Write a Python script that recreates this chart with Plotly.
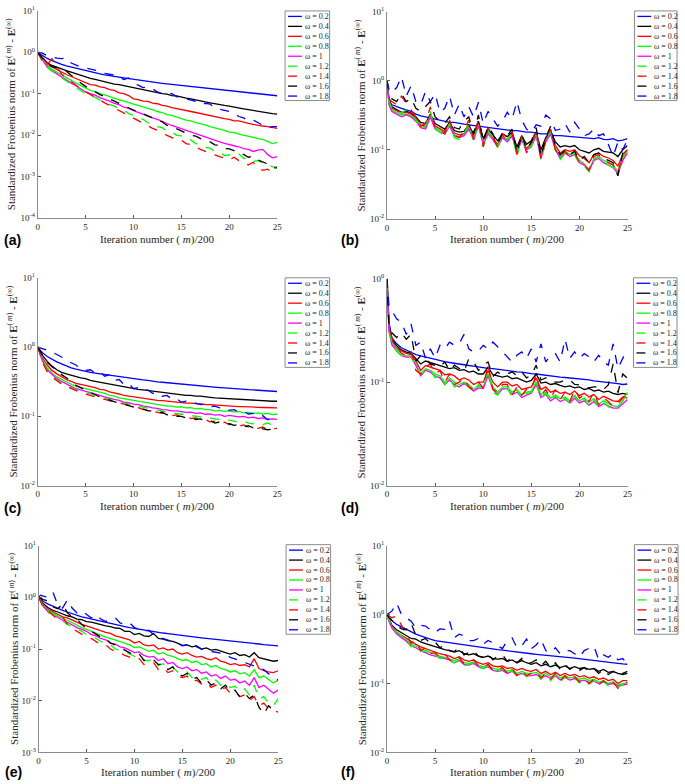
import plotly.graph_objects as go

W, H = 685, 784

# x grid: iteration number (m)/200
X = [0, 0.2, 0.5, 1, 1.5, 2, 2.5, 3, 3.5, 4, 4.5, 5,
     5.5, 6, 6.5, 7, 7.5, 8, 8.5, 9, 9.5, 10,
     10.5, 11, 11.5, 12, 12.5, 13, 13.5, 14, 14.5, 15,
     15.5, 16, 16.5, 17, 17.5, 18, 18.5, 19, 19.5, 20,
     20.5, 21, 21.5, 22, 22.5, 23, 23.5, 24, 24.5, 25]

OMEGA_LABELS = ["ω = 0.2", "ω = 0.4", "ω = 0.6", "ω = 0.8", "ω = 1",
                "ω = 1.2", "ω = 1.4", "ω = 1.6", "ω = 1.8"]
X_TICKS = [0, 5, 10, 15, 20, 25]
PANEL_LABELS = ["(a)", "(b)", "(c)", "(d)", "(e)", "(f)"]

# ---------------- panel (a) ----------------
A_02 = [1.0, 0.93, 0.83, 0.71, 0.63, 0.56, 0.51, 0.47, 0.44, 0.41, 0.38, 0.355,
        0.335, 0.32, 0.30, 0.285, 0.27, 0.26, 0.25, 0.24, 0.23, 0.22,
        0.212, 0.205, 0.198, 0.19, 0.184, 0.178, 0.172, 0.167, 0.162, 0.157,
        0.152, 0.148, 0.144, 0.14, 0.136, 0.132, 0.128, 0.125, 0.121, 0.118,
        0.115, 0.112, 0.109, 0.106, 0.103, 0.1, 0.097, 0.094, 0.092, 0.089]
A_04 = [1.0, 0.9, 0.76, 0.56, 0.48, 0.43, 0.39, 0.36, 0.33, 0.3, 0.28, 0.25,
        0.235, 0.22, 0.205, 0.195, 0.18, 0.17, 0.165, 0.155, 0.15, 0.14,
        0.13, 0.125, 0.118, 0.112, 0.105, 0.1, 0.097, 0.09, 0.088, 0.082,
        0.078, 0.075, 0.07, 0.068, 0.063, 0.06, 0.058, 0.054, 0.052, 0.05,
        0.047, 0.046, 0.043, 0.041, 0.039, 0.038, 0.035, 0.034, 0.033, 0.032]
A_06 = [1.0, 0.88, 0.7, 0.52, 0.44, 0.38, 0.33, 0.29, 0.26, 0.23, 0.21, 0.18,
        0.165, 0.16, 0.145, 0.14, 0.125, 0.12, 0.105, 0.1, 0.09, 0.075,
        0.072, 0.066, 0.065, 0.059, 0.057, 0.052, 0.05, 0.046, 0.044, 0.041,
        0.039, 0.037, 0.035, 0.033, 0.032, 0.029, 0.028, 0.026, 0.025, 0.024,
        0.022, 0.022, 0.02, 0.019, 0.018, 0.017, 0.0165, 0.016, 0.015, 0.0145]
A_08 = [1.0, 0.86, 0.66, 0.47, 0.39, 0.33, 0.28, 0.24, 0.21, 0.18, 0.155, 0.135,
        0.12, 0.112, 0.1, 0.094, 0.085, 0.08, 0.071, 0.067, 0.06, 0.056,
        0.052, 0.047, 0.044, 0.041, 0.037, 0.035, 0.031, 0.03, 0.027, 0.025,
        0.023, 0.022, 0.02, 0.019, 0.0175, 0.016, 0.015, 0.014, 0.013, 0.0118,
        0.0115, 0.0105, 0.01, 0.0092, 0.0088, 0.0082, 0.0078, 0.007, 0.0062, 0.0066]
A_10 = [1.0, 0.85, 0.63, 0.44, 0.36, 0.3, 0.25, 0.21, 0.18, 0.155, 0.13, 0.11,
        0.1, 0.092, 0.08, 0.073, 0.066, 0.058, 0.054, 0.047, 0.044, 0.039,
        0.035, 0.032, 0.029, 0.026, 0.024, 0.021, 0.019, 0.017, 0.0155, 0.014,
        0.0128, 0.0115, 0.0105, 0.0098, 0.0088, 0.0082, 0.0074, 0.0068, 0.0063, 0.006,
        0.0055, 0.0052, 0.0047, 0.0045, 0.004, 0.0043, 0.0045, 0.0034, 0.0028, 0.003]
A_12 = [1.0, 0.85, 0.62, 0.43, 0.35, 0.29, 0.24, 0.2, 0.17, 0.14, 0.12, 0.1,
        0.088, 0.082, 0.07, 0.064, 0.055, 0.05, 0.043, 0.04, 0.033, 0.03,
        0.026, 0.024, 0.02, 0.019, 0.016, 0.015, 0.0125, 0.012, 0.0098, 0.0095,
        0.008, 0.0076, 0.0062, 0.006, 0.005, 0.0048, 0.004, 0.0038, 0.0032, 0.0033,
        0.0031, 0.0035, 0.0027, 0.0028, 0.0023, 0.0024, 0.0021, 0.002, 0.0017, 0.0017]
A_14 = [1.0, 0.84, 0.6, 0.5, 0.7, 0.45, 0.3, 0.24, 0.2, 0.16, 0.13, 0.11,
        0.095, 0.08, 0.07, 0.06, 0.052, 0.045, 0.039, 0.034, 0.029, 0.025,
        0.022, 0.019, 0.017, 0.0145, 0.013, 0.011, 0.0098, 0.0088, 0.0078, 0.0075,
        0.0062, 0.0058, 0.005, 0.0045, 0.004, 0.0037, 0.0033, 0.003, 0.0028, 0.0025,
        0.0029, 0.0024, 0.0021, 0.0019, 0.0022, 0.0016, 0.0014, 0.0015, 0.0012, 0.00105]
A_16 = [1.0, 0.88, 0.7, 0.52, 0.45, 0.42, 0.44, 0.36, 0.28, 0.22, 0.18, 0.15,
        0.13, 0.11, 0.095, 0.085, 0.075, 0.065, 0.058, 0.05, 0.045, 0.04,
        0.037, 0.032, 0.029, 0.026, 0.022, 0.021, 0.017, 0.016, 0.014, 0.0125,
        0.011, 0.0098, 0.0094, 0.0082, 0.0072, 0.0068, 0.0058, 0.0056, 0.0047, 0.0046,
        0.0042, 0.0036, 0.0034, 0.0029, 0.0031, 0.0025, 0.0022, 0.002, 0.0016, 0.0016]
A_18 = [1.0, 1.0, 0.95, 0.83, 0.78, 0.72, 0.7, 0.73, 0.55, 0.5, 0.44, 0.42,
        0.4, 0.37, 0.35, 0.31, 0.3, 0.28, 0.25, 0.22, 0.24, 0.18,
        0.16, 0.14, 0.145, 0.13, 0.11, 0.1, 0.105, 0.1, 0.085, 0.08,
        0.075, 0.07, 0.065, 0.055, 0.058, 0.056, 0.045, 0.042, 0.04, 0.037,
        0.033, 0.028, 0.026, 0.022, 0.023, 0.02, 0.017, 0.015, 0.016, 0.016]

# ---------------- panel (b) ----------------
B_02 = [1.0, 0.5, 0.45, 0.42, 0.4, 0.38, 0.36, 0.33, 0.31, 0.3, 0.29, 0.28,
        0.27, 0.26, 0.25, 0.25, 0.24, 0.235, 0.23, 0.225, 0.22, 0.215,
        0.21, 0.205, 0.2, 0.2, 0.195, 0.19, 0.19, 0.185, 0.18, 0.18,
        0.175, 0.17, 0.17, 0.165, 0.16, 0.16, 0.158, 0.155, 0.155, 0.15,
        0.15, 0.148, 0.145, 0.15, 0.142, 0.14, 0.145, 0.135, 0.138, 0.145]
B_04 = [1.0, 0.56, 0.42, 0.38, 0.35, 0.36, 0.34, 0.3, 0.25, 0.24, 0.33, 0.24,
        0.22, 0.2, 0.25, 0.19, 0.18, 0.185, 0.23, 0.165, 0.26, 0.145,
        0.2, 0.165, 0.135, 0.17, 0.155, 0.18, 0.11, 0.16, 0.12, 0.135,
        0.18, 0.1, 0.15, 0.19, 0.13, 0.11, 0.115, 0.11, 0.115, 0.1,
        0.095, 0.09, 0.1, 0.105, 0.095, 0.092, 0.09, 0.08, 0.1, 0.115]
B_06 = [1.0, 0.52, 0.4, 0.37, 0.34, 0.35, 0.33, 0.28, 0.23, 0.22, 0.32, 0.22,
        0.2, 0.185, 0.24, 0.175, 0.165, 0.17, 0.22, 0.15, 0.24, 0.13,
        0.185, 0.15, 0.12, 0.16, 0.14, 0.17, 0.095, 0.15, 0.105, 0.12,
        0.17, 0.085, 0.14, 0.18, 0.115, 0.09, 0.1, 0.095, 0.1, 0.082,
        0.075, 0.065, 0.085, 0.09, 0.08, 0.076, 0.07, 0.058, 0.085, 0.1]
B_08 = [1.0, 0.48, 0.38, 0.35, 0.32, 0.33, 0.31, 0.27, 0.22, 0.21, 0.31, 0.21,
        0.19, 0.175, 0.23, 0.165, 0.155, 0.165, 0.21, 0.145, 0.23, 0.125,
        0.175, 0.145, 0.115, 0.155, 0.135, 0.165, 0.09, 0.145, 0.1, 0.115,
        0.165, 0.078, 0.135, 0.175, 0.105, 0.08, 0.095, 0.085, 0.09, 0.07,
        0.062, 0.052, 0.072, 0.08, 0.07, 0.064, 0.06, 0.048, 0.075, 0.095]
B_10 = [1.0, 0.45, 0.36, 0.33, 0.3, 0.32, 0.3, 0.26, 0.21, 0.2, 0.3, 0.2,
        0.18, 0.17, 0.22, 0.16, 0.15, 0.16, 0.2, 0.14, 0.22, 0.12,
        0.17, 0.14, 0.11, 0.15, 0.13, 0.16, 0.09, 0.14, 0.1, 0.11,
        0.16, 0.075, 0.13, 0.17, 0.1, 0.075, 0.09, 0.08, 0.085, 0.065,
        0.06, 0.05, 0.07, 0.075, 0.065, 0.06, 0.055, 0.045, 0.07, 0.09]
B_12 = [1.0, 0.5, 0.4, 0.36, 0.34, 0.38, 0.32, 0.27, 0.2, 0.22, 0.36, 0.2,
        0.18, 0.16, 0.24, 0.15, 0.14, 0.17, 0.24, 0.13, 0.25, 0.11,
        0.19, 0.14, 0.11, 0.16, 0.14, 0.17, 0.08, 0.15, 0.095, 0.11,
        0.18, 0.07, 0.13, 0.19, 0.1, 0.072, 0.088, 0.078, 0.085, 0.062,
        0.058, 0.048, 0.075, 0.08, 0.068, 0.06, 0.055, 0.044, 0.08, 0.1]
B_14 = [1.0, 0.55, 0.5, 0.45, 0.6, 0.48, 0.38, 0.3, 0.22, 0.24, 0.42, 0.21,
        0.2, 0.17, 0.27, 0.16, 0.15, 0.19, 0.27, 0.14, 0.28, 0.11,
        0.21, 0.15, 0.11, 0.17, 0.15, 0.18, 0.085, 0.16, 0.09, 0.12,
        0.2, 0.075, 0.14, 0.2, 0.1, 0.08, 0.095, 0.08, 0.09, 0.065,
        0.06, 0.05, 0.08, 0.085, 0.07, 0.065, 0.06, 0.046, 0.085, 0.1]
B_16 = [1.0, 0.75, 0.55, 0.5, 0.65, 0.5, 0.56, 0.4, 0.36, 0.42, 0.5, 0.3,
        0.26, 0.24, 0.3, 0.21, 0.2, 0.26, 0.3, 0.17, 0.32, 0.13,
        0.22, 0.17, 0.12, 0.18, 0.16, 0.2, 0.09, 0.17, 0.1, 0.13,
        0.21, 0.08, 0.15, 0.22, 0.11, 0.085, 0.1, 0.085, 0.095, 0.07,
        0.08, 0.065, 0.085, 0.09, 0.075, 0.07, 0.065, 0.042, 0.09, 0.11]
B_18 = [1.0, 0.7, 0.68, 0.8, 1.15, 0.6, 0.85, 0.5, 0.45, 0.7, 0.5, 0.65,
        0.35, 0.4, 0.6, 0.32, 0.46, 0.3, 0.42, 0.3, 0.49, 0.24,
        0.36, 0.28, 0.22, 0.26, 0.35, 0.28, 0.5, 0.27, 0.2, 0.18,
        0.23, 0.22, 0.32, 0.28, 0.19, 0.2, 0.24, 0.18, 0.25, 0.2,
        0.16, 0.17, 0.2, 0.16, 0.17, 0.12, 0.08, 0.13, 0.1, 0.14]

# ---------------- panel (c) ----------------
C_02 = [1.0, 0.93, 0.83, 0.73, 0.66, 0.61, 0.57, 0.53, 0.5, 0.48, 0.46, 0.44,
        0.43, 0.42, 0.41, 0.4, 0.39, 0.38, 0.37, 0.36, 0.355, 0.35,
        0.34, 0.335, 0.33, 0.32, 0.315, 0.31, 0.305, 0.3, 0.295, 0.29,
        0.287, 0.283, 0.28, 0.275, 0.27, 0.267, 0.263, 0.26, 0.257, 0.253,
        0.25, 0.248, 0.245, 0.242, 0.24, 0.237, 0.235, 0.232, 0.23, 0.228]
C_04 = [1.0, 0.9, 0.76, 0.62, 0.53, 0.47, 0.43, 0.41, 0.39, 0.37, 0.36, 0.35,
        0.33, 0.32, 0.31, 0.3, 0.29, 0.28, 0.275, 0.265, 0.26, 0.25,
        0.245, 0.24, 0.235, 0.23, 0.225, 0.22, 0.215, 0.215, 0.21, 0.205,
        0.2, 0.2, 0.195, 0.195, 0.19, 0.188, 0.185, 0.183, 0.18, 0.178,
        0.176, 0.175, 0.173, 0.172, 0.17, 0.169, 0.168, 0.166, 0.165, 0.165]
C_06 = [1.0, 0.88, 0.7, 0.55, 0.46, 0.41, 0.37, 0.34, 0.32, 0.3, 0.29, 0.28,
        0.27, 0.26, 0.245, 0.24, 0.225, 0.22, 0.21, 0.2, 0.195, 0.19,
        0.185, 0.18, 0.178, 0.175, 0.17, 0.168, 0.165, 0.162, 0.16, 0.158,
        0.155, 0.155, 0.152, 0.15, 0.148, 0.147, 0.145, 0.143, 0.142, 0.14,
        0.14, 0.138, 0.138, 0.136, 0.136, 0.135, 0.134, 0.133, 0.132, 0.132]
C_08 = [1.0, 0.86, 0.66, 0.5, 0.42, 0.37, 0.34, 0.31, 0.29, 0.27, 0.26, 0.25,
        0.24, 0.23, 0.22, 0.215, 0.2, 0.195, 0.185, 0.18, 0.175, 0.168,
        0.165, 0.158, 0.155, 0.15, 0.148, 0.145, 0.14, 0.14, 0.136, 0.137,
        0.132, 0.133, 0.128, 0.13, 0.125, 0.125, 0.12, 0.122, 0.118, 0.12,
        0.115, 0.118, 0.112, 0.114, 0.11, 0.112, 0.108, 0.11, 0.106, 0.108]
C_10 = [1.0, 0.85, 0.63, 0.47, 0.4, 0.35, 0.32, 0.29, 0.27, 0.25, 0.24, 0.23,
        0.22, 0.21, 0.2, 0.19, 0.18, 0.175, 0.17, 0.16, 0.158, 0.15,
        0.148, 0.14, 0.138, 0.132, 0.13, 0.125, 0.124, 0.12, 0.12, 0.117,
        0.114, 0.115, 0.11, 0.112, 0.107, 0.108, 0.104, 0.106, 0.1, 0.103,
        0.1, 0.098, 0.1, 0.095, 0.097, 0.093, 0.095, 0.09, 0.092, 0.09]
C_12 = [1.0, 0.85, 0.62, 0.45, 0.38, 0.34, 0.3, 0.28, 0.26, 0.24, 0.23, 0.22,
        0.21, 0.2, 0.19, 0.18, 0.175, 0.17, 0.16, 0.155, 0.15, 0.142,
        0.14, 0.135, 0.13, 0.125, 0.122, 0.118, 0.115, 0.112, 0.11, 0.107,
        0.105, 0.102, 0.1, 0.098, 0.096, 0.095, 0.092, 0.09, 0.09, 0.088,
        0.085, 0.082, 0.085, 0.08, 0.078, 0.082, 0.076, 0.08, 0.075, 0.078]
C_14 = [1.0, 0.84, 0.6, 0.44, 0.37, 0.33, 0.29, 0.27, 0.25, 0.235, 0.22, 0.21,
        0.2, 0.19, 0.18, 0.175, 0.168, 0.16, 0.155, 0.15, 0.145, 0.135,
        0.133, 0.125, 0.125, 0.118, 0.115, 0.11, 0.112, 0.102, 0.105, 0.098,
        0.1, 0.093, 0.095, 0.088, 0.09, 0.083, 0.085, 0.079, 0.082, 0.076,
        0.078, 0.072, 0.075, 0.07, 0.072, 0.067, 0.07, 0.064, 0.066, 0.067]
C_16 = [1.0, 0.9, 0.75, 0.6, 0.52, 0.45, 0.4, 0.36, 0.32, 0.28, 0.26, 0.24,
        0.22, 0.205, 0.19, 0.18, 0.17, 0.162, 0.155, 0.15, 0.142, 0.138,
        0.13, 0.128, 0.12, 0.12, 0.112, 0.115, 0.105, 0.108, 0.1, 0.1,
        0.095, 0.097, 0.09, 0.092, 0.085, 0.087, 0.08, 0.083, 0.077, 0.078,
        0.074, 0.076, 0.07, 0.073, 0.068, 0.07, 0.066, 0.064, 0.065, 0.068]
C_18 = [1.0, 0.98, 0.95, 0.9, 0.85, 0.78, 0.72, 0.64, 0.6, 0.55, 0.48, 0.46,
        0.47, 0.42, 0.44, 0.38, 0.4, 0.33, 0.34, 0.29, 0.3, 0.25,
        0.26, 0.235, 0.24, 0.215, 0.22, 0.195, 0.2, 0.178, 0.18, 0.16,
        0.165, 0.15, 0.155, 0.148, 0.15, 0.138, 0.14, 0.132, 0.135, 0.122,
        0.125, 0.115, 0.118, 0.108, 0.11, 0.1, 0.102, 0.09, 0.092, 0.082]

# ---------------- panel (d) ----------------
D_02 = [1.0, 0.38, 0.27, 0.235, 0.215, 0.205, 0.195, 0.185, 0.18, 0.175, 0.17, 0.165,
        0.162, 0.158, 0.155, 0.152, 0.15, 0.148, 0.145, 0.143, 0.14, 0.138,
        0.136, 0.135, 0.133, 0.13, 0.13, 0.128, 0.126, 0.125, 0.122, 0.121,
        0.12, 0.118, 0.117, 0.115, 0.114, 0.112, 0.111, 0.11, 0.108, 0.107,
        0.106, 0.105, 0.103, 0.102, 0.1, 0.099, 0.098, 0.097, 0.095, 0.096]
D_04 = [1.0, 0.36, 0.26, 0.225, 0.205, 0.195, 0.19, 0.17, 0.15, 0.16, 0.155, 0.15,
        0.145, 0.14, 0.135, 0.138, 0.13, 0.132, 0.125, 0.128, 0.12, 0.12,
        0.14, 0.118, 0.115, 0.112, 0.115, 0.108, 0.11, 0.105, 0.1, 0.104,
        0.12, 0.098, 0.1, 0.095, 0.097, 0.093, 0.09, 0.092, 0.088, 0.09,
        0.085, 0.087, 0.082, 0.084, 0.08, 0.082, 0.078, 0.076, 0.078, 0.076]
D_06 = [1.0, 0.34, 0.25, 0.215, 0.2, 0.19, 0.185, 0.16, 0.13, 0.145, 0.14, 0.135,
        0.13, 0.118, 0.12, 0.115, 0.105, 0.11, 0.105, 0.095, 0.1, 0.1,
        0.13, 0.1, 0.09, 0.1, 0.1, 0.092, 0.095, 0.085, 0.088, 0.09,
        0.11, 0.085, 0.09, 0.08, 0.083, 0.078, 0.08, 0.076, 0.082, 0.074,
        0.078, 0.072, 0.076, 0.068, 0.073, 0.07, 0.066, 0.065, 0.072, 0.07]
D_08 = [1.0, 0.32, 0.24, 0.21, 0.19, 0.18, 0.18, 0.15, 0.12, 0.135, 0.13, 0.12,
        0.115, 0.1, 0.11, 0.1, 0.095, 0.1, 0.095, 0.085, 0.092, 0.09,
        0.12, 0.09, 0.08, 0.09, 0.09, 0.08, 0.085, 0.075, 0.08, 0.082,
        0.1, 0.075, 0.08, 0.07, 0.075, 0.069, 0.072, 0.066, 0.074, 0.066,
        0.07, 0.064, 0.069, 0.061, 0.066, 0.062, 0.059, 0.058, 0.066, 0.08]
D_10 = [1.0, 0.31, 0.23, 0.2, 0.18, 0.175, 0.175, 0.145, 0.115, 0.13, 0.125, 0.115,
        0.11, 0.095, 0.105, 0.095, 0.09, 0.097, 0.09, 0.082, 0.088, 0.087,
        0.115, 0.085, 0.076, 0.086, 0.086, 0.076, 0.08, 0.071, 0.075, 0.078,
        0.095, 0.071, 0.076, 0.066, 0.071, 0.065, 0.068, 0.063, 0.07, 0.063,
        0.066, 0.06, 0.065, 0.058, 0.062, 0.059, 0.056, 0.056, 0.062, 0.068]
D_12 = [1.0, 0.33, 0.24, 0.2, 0.18, 0.17, 0.18, 0.14, 0.12, 0.13, 0.13, 0.11,
        0.12, 0.095, 0.11, 0.09, 0.095, 0.1, 0.09, 0.08, 0.095, 0.085,
        0.13, 0.08, 0.075, 0.09, 0.088, 0.072, 0.085, 0.07, 0.078, 0.08,
        0.1, 0.07, 0.078, 0.065, 0.075, 0.062, 0.07, 0.062, 0.075, 0.062,
        0.07, 0.058, 0.068, 0.057, 0.064, 0.058, 0.055, 0.058, 0.065, 0.085]
D_14 = [1.0, 0.35, 0.27, 0.22, 0.19, 0.18, 0.2, 0.13, 0.12, 0.14, 0.15, 0.12,
        0.13, 0.1, 0.12, 0.095, 0.1, 0.11, 0.09, 0.085, 0.1, 0.088,
        0.15, 0.085, 0.08, 0.095, 0.095, 0.075, 0.09, 0.075, 0.085, 0.085,
        0.12, 0.075, 0.085, 0.07, 0.085, 0.068, 0.08, 0.065, 0.085, 0.07,
        0.075, 0.065, 0.08, 0.06, 0.07, 0.065, 0.058, 0.062, 0.07, 0.08]
D_16 = [1.0, 0.36, 0.3, 0.27, 0.3, 0.26, 0.29, 0.16, 0.18, 0.17, 0.15, 0.146,
        0.14, 0.157, 0.13, 0.146, 0.135, 0.126, 0.169, 0.157, 0.13, 0.146,
        0.157, 0.113, 0.125, 0.117, 0.12, 0.126, 0.115, 0.126, 0.11, 0.117,
        0.146, 0.105, 0.11, 0.109, 0.1, 0.1, 0.105, 0.105, 0.095, 0.094,
        0.09, 0.088, 0.09, 0.09, 0.085, 0.094, 0.15, 0.079, 0.12, 0.109]
D_18 = [1.0, 0.55, 0.49, 0.41, 0.38, 0.29, 0.365, 0.227, 0.244, 0.17, 0.21, 0.17,
        0.227, 0.21, 0.244, 0.227, 0.235, 0.29, 0.21, 0.196, 0.2, 0.227,
        0.21, 0.244, 0.22, 0.196, 0.176, 0.157, 0.182, 0.196, 0.17, 0.21,
        0.157, 0.235, 0.157, 0.182, 0.189, 0.157, 0.26, 0.17, 0.196, 0.17,
        0.189, 0.176, 0.157, 0.182, 0.157, 0.146, 0.235, 0.136, 0.17, 0.21]

# ---------------- panel (e) ----------------
E_02 = [1.0, 0.92, 0.83, 0.74, 0.67, 0.61, 0.56, 0.52, 0.48, 0.45, 0.42, 0.4,
        0.38, 0.36, 0.34, 0.325, 0.31, 0.3, 0.285, 0.272, 0.26, 0.25,
        0.24, 0.232, 0.224, 0.217, 0.21, 0.204, 0.198, 0.192, 0.186, 0.18,
        0.176, 0.172, 0.168, 0.164, 0.16, 0.156, 0.152, 0.149, 0.146, 0.143,
        0.14, 0.137, 0.134, 0.131, 0.128, 0.125, 0.122, 0.12, 0.117, 0.115]
E_04 = [1.0, 0.88, 0.75, 0.63, 0.56, 0.52, 0.47, 0.44, 0.42, 0.38, 0.37, 0.34,
        0.33, 0.31, 0.3, 0.28, 0.27, 0.255, 0.25, 0.22, 0.22, 0.19,
        0.2, 0.18, 0.175, 0.2, 0.16, 0.155, 0.145, 0.14, 0.13, 0.118,
        0.12, 0.11, 0.115, 0.1, 0.105, 0.095, 0.098, 0.09, 0.085, 0.08,
        0.085, 0.075, 0.078, 0.07, 0.085, 0.068, 0.065, 0.062, 0.058, 0.06]
E_06 = [1.0, 0.86, 0.7, 0.58, 0.52, 0.46, 0.42, 0.4, 0.36, 0.33, 0.3, 0.28,
        0.26, 0.24, 0.22, 0.21, 0.2, 0.18, 0.17, 0.16, 0.15, 0.13,
        0.14, 0.12, 0.115, 0.12, 0.1, 0.105, 0.095, 0.1, 0.085, 0.08,
        0.085, 0.075, 0.07, 0.072, 0.065, 0.062, 0.068, 0.058, 0.055, 0.05,
        0.052, 0.048, 0.05, 0.045, 0.065, 0.042, 0.038, 0.036, 0.035, 0.038]
E_08 = [1.0, 0.85, 0.68, 0.55, 0.49, 0.43, 0.39, 0.36, 0.32, 0.29, 0.26, 0.24,
        0.22, 0.2, 0.19, 0.17, 0.16, 0.15, 0.14, 0.13, 0.12, 0.107,
        0.11, 0.1, 0.09, 0.095, 0.08, 0.085, 0.075, 0.072, 0.065, 0.06,
        0.062, 0.055, 0.058, 0.05, 0.052, 0.045, 0.048, 0.042, 0.04, 0.036,
        0.038, 0.033, 0.035, 0.03, 0.04, 0.028, 0.03, 0.026, 0.022, 0.025]
E_10 = [1.0, 0.84, 0.66, 0.52, 0.46, 0.4, 0.36, 0.33, 0.29, 0.26, 0.24, 0.22,
        0.19, 0.18, 0.16, 0.15, 0.13, 0.125, 0.11, 0.105, 0.095, 0.085,
        0.088, 0.075, 0.07, 0.072, 0.06, 0.065, 0.052, 0.055, 0.045, 0.042,
        0.045, 0.038, 0.04, 0.034, 0.036, 0.03, 0.032, 0.027, 0.03, 0.025,
        0.026, 0.022, 0.024, 0.02, 0.028, 0.018, 0.02, 0.017, 0.014, 0.016]
E_12 = [1.0, 0.83, 0.65, 0.5, 0.48, 0.38, 0.35, 0.3, 0.27, 0.24, 0.22, 0.19,
        0.18, 0.16, 0.14, 0.13, 0.12, 0.1, 0.095, 0.09, 0.08, 0.072,
        0.075, 0.06, 0.06, 0.065, 0.048, 0.052, 0.042, 0.045, 0.036, 0.033,
        0.036, 0.028, 0.03, 0.026, 0.028, 0.022, 0.025, 0.02, 0.022, 0.018,
        0.019, 0.015, 0.017, 0.013, 0.02, 0.011, 0.012, 0.009, 0.008, 0.011]
E_14 = [1.0, 0.82, 0.63, 0.55, 0.45, 0.37, 0.42, 0.3, 0.25, 0.22, 0.2, 0.17,
        0.16, 0.14, 0.12, 0.12, 0.1, 0.09, 0.085, 0.075, 0.07, 0.062,
        0.065, 0.05, 0.052, 0.055, 0.04, 0.044, 0.035, 0.038, 0.03, 0.028,
        0.03, 0.023, 0.025, 0.021, 0.023, 0.018, 0.02, 0.016, 0.018, 0.014,
        0.015, 0.012, 0.013, 0.01, 0.012, 0.008, 0.009, 0.007, 0.0065, 0.006]
E_16 = [1.0, 0.95, 0.9, 0.85, 0.65, 0.6, 0.75, 0.5, 0.42, 0.38, 0.3, 0.25,
        0.22, 0.2, 0.17, 0.16, 0.13, 0.12, 0.11, 0.095, 0.085, 0.075,
        0.08, 0.06, 0.065, 0.062, 0.05, 0.052, 0.04, 0.045, 0.034, 0.03,
        0.034, 0.026, 0.028, 0.022, 0.026, 0.02, 0.022, 0.017, 0.02, 0.015,
        0.016, 0.012, 0.014, 0.011, 0.013, 0.0075, 0.0055, 0.008, 0.0065, 0.006]
E_18 = [1.0, 1.1, 1.05, 1.0, 1.25, 0.71, 0.62, 0.89, 0.62, 0.5, 0.55, 0.46,
        0.4, 0.46, 0.38, 0.34, 0.38, 0.4, 0.32, 0.3, 0.32, 0.26,
        0.24, 0.22, 0.23, 0.19, 0.17, 0.16, 0.15, 0.14, 0.13, 0.115,
        0.12, 0.13, 0.11, 0.1, 0.099, 0.09, 0.086, 0.085, 0.08, 0.069,
        0.065, 0.06, 0.055, 0.051, 0.048, 0.044, 0.04, 0.033, 0.03, 0.025]

# ---------------- panel (f) ----------------
F_02 = [1.0, 0.92, 0.82, 0.72, 0.66, 0.61, 0.56, 0.52, 0.49, 0.46, 0.44, 0.42,
        0.41, 0.4, 0.39, 0.38, 0.37, 0.36, 0.355, 0.35, 0.34, 0.33,
        0.325, 0.318, 0.31, 0.305, 0.3, 0.295, 0.29, 0.285, 0.278, 0.27,
        0.265, 0.26, 0.255, 0.25, 0.248, 0.245, 0.24, 0.237, 0.234, 0.23,
        0.226, 0.222, 0.218, 0.214, 0.21, 0.205, 0.2, 0.196, 0.192, 0.19]
F_04 = [1.0, 0.85, 0.7, 0.6, 0.55, 0.5, 0.45, 0.44, 0.4, 0.38, 0.36, 0.34,
        0.32, 0.31, 0.3, 0.285, 0.3, 0.27, 0.26, 0.27, 0.25, 0.24,
        0.25, 0.23, 0.225, 0.23, 0.21, 0.22, 0.2, 0.215, 0.2, 0.19,
        0.2, 0.18, 0.19, 0.175, 0.185, 0.17, 0.18, 0.165, 0.175, 0.165,
        0.17, 0.16, 0.165, 0.15, 0.16, 0.145, 0.15, 0.14, 0.135, 0.14]
F_06 = [1.0, 0.83, 0.68, 0.56, 0.5, 0.45, 0.4, 0.37, 0.34, 0.32, 0.3, 0.28,
        0.27, 0.26, 0.25, 0.23, 0.245, 0.22, 0.21, 0.22, 0.2, 0.19,
        0.2, 0.18, 0.175, 0.18, 0.165, 0.17, 0.155, 0.165, 0.155, 0.15,
        0.16, 0.14, 0.15, 0.135, 0.145, 0.13, 0.14, 0.13, 0.135, 0.125,
        0.13, 0.12, 0.125, 0.115, 0.12, 0.11, 0.115, 0.1, 0.11, 0.11]
F_08 = [1.0, 0.82, 0.66, 0.54, 0.48, 0.43, 0.37, 0.35, 0.32, 0.3, 0.28, 0.26,
        0.25, 0.24, 0.23, 0.215, 0.23, 0.2, 0.195, 0.205, 0.185, 0.175,
        0.185, 0.165, 0.16, 0.165, 0.15, 0.16, 0.14, 0.15, 0.14, 0.14,
        0.145, 0.13, 0.14, 0.125, 0.135, 0.12, 0.13, 0.12, 0.125, 0.115,
        0.12, 0.11, 0.115, 0.105, 0.11, 0.1, 0.105, 0.095, 0.1, 0.1]
F_10 = [1.0, 0.8, 0.64, 0.52, 0.46, 0.41, 0.35, 0.33, 0.3, 0.28, 0.26, 0.25,
        0.24, 0.23, 0.22, 0.2, 0.215, 0.19, 0.185, 0.195, 0.175, 0.165,
        0.175, 0.155, 0.15, 0.155, 0.14, 0.15, 0.132, 0.14, 0.13, 0.13,
        0.135, 0.122, 0.13, 0.118, 0.128, 0.112, 0.122, 0.112, 0.118, 0.108,
        0.112, 0.103, 0.108, 0.1, 0.105, 0.097, 0.1, 0.092, 0.096, 0.098]
F_12 = [1.0, 0.82, 0.65, 0.55, 0.5, 0.42, 0.34, 0.36, 0.29, 0.3, 0.25, 0.26,
        0.23, 0.24, 0.21, 0.2, 0.22, 0.18, 0.19, 0.2, 0.17, 0.165,
        0.18, 0.15, 0.155, 0.16, 0.135, 0.155, 0.128, 0.145, 0.125, 0.135,
        0.14, 0.115, 0.135, 0.11, 0.13, 0.105, 0.125, 0.108, 0.12, 0.102,
        0.115, 0.098, 0.11, 0.095, 0.108, 0.092, 0.1, 0.088, 0.095, 0.1]
F_14 = [1.0, 0.95, 0.9, 0.95, 0.7, 0.5, 0.38, 0.42, 0.3, 0.33, 0.27, 0.28,
        0.24, 0.27, 0.22, 0.21, 0.24, 0.19, 0.2, 0.22, 0.18, 0.17,
        0.19, 0.155, 0.165, 0.17, 0.14, 0.165, 0.13, 0.155, 0.13, 0.14,
        0.15, 0.12, 0.14, 0.115, 0.14, 0.11, 0.13, 0.11, 0.125, 0.105,
        0.12, 0.1, 0.115, 0.095, 0.11, 0.095, 0.105, 0.085, 0.1, 0.105]
F_16 = [1.0, 0.9, 0.82, 0.7, 0.62, 0.6, 0.75, 0.5, 0.42, 0.45, 0.38, 0.4,
        0.33, 0.36, 0.3, 0.29, 0.34, 0.26, 0.28, 0.3, 0.25, 0.24,
        0.27, 0.22, 0.25, 0.26, 0.21, 0.24, 0.2, 0.23, 0.19, 0.2,
        0.22, 0.18, 0.21, 0.17, 0.2, 0.16, 0.19, 0.16, 0.18, 0.155,
        0.17, 0.15, 0.165, 0.14, 0.16, 0.135, 0.15, 0.13, 0.14, 0.15]
F_18 = [1.0, 1.06, 1.12, 1.47, 1.0, 0.9, 0.8, 0.64, 0.7, 0.68, 0.6, 0.55,
        0.62, 0.61, 0.8, 0.46, 0.52, 0.49, 0.42, 0.42, 0.45, 0.37,
        0.42, 0.39, 0.35, 0.32, 0.42, 0.46, 0.33, 0.35, 0.44, 0.32,
        0.36, 0.44, 0.3, 0.28, 0.33, 0.27, 0.3, 0.3, 0.27, 0.24,
        0.3, 0.32, 0.35, 0.22, 0.26, 0.24, 0.27, 0.22, 0.23, 0.19]

PANELS = [
    [A_02, A_04, A_06, A_08, A_10, A_12, A_14, A_16, A_18],
    [B_02, B_04, B_06, B_08, B_10, B_12, B_14, B_16, B_18],
    [C_02, C_04, C_06, C_08, C_10, C_12, C_14, C_16, C_18],
    [D_02, D_04, D_06, D_08, D_10, D_12, D_14, D_16, D_18],
    [E_02, E_04, E_06, E_08, E_10, E_12, E_14, E_16, E_18],
    [F_02, F_04, F_06, F_08, F_10, F_12, F_14, F_16, F_18],
]
Y_DECADES = [(-4, 1), (-2, 1), (-2, 1), (-2, 0), (-3, 1), (-2, 1)]

# styles
COLORS = ["#0000ff", "#000000", "#ff0000", "#00ff00", "#ff00ff",
          "#00ff00", "#ff0000", "#000000", "#0000ff"]
DASHES = ["solid"] * 5 + ["dash"] * 4
SERIF = "Liberation Serif, Times New Roman, serif"

# layout geometry in pixels: (left, right, top, bottom) of plot areas
BOXES = [(36, 278, 4, 214), (389, 632, 5, 215),
         (36, 278, 275, 486), (389, 632, 276, 486),
         (37, 279, 547, 757), (389, 632, 547, 757)]
LEGENDS = [(286, 331, 4, 95), (639, 682, 4, 95),
           (286, 331, 275, 366), (638, 682, 275, 366),
           (287, 332, 546, 637), (639, 683, 546, 637)]
YTITLE_X = [9, 362, 10, 362, 12, 363]
LABEL_Y = [237, 237, 509, 509, 777, 777]
XTITLE_Y = [236, 236, 507, 507, 777, 777]


def px(x):
    return x / W


def py(y):
    return 1 - y / H


fig = go.Figure()
layout = dict(width=W, height=H, margin=dict(l=0, r=0, t=0, b=0),
              paper_bgcolor="white", plot_bgcolor="white", showlegend=False)
shapes, annotations = [], []

for p, series in enumerate(PANELS):
    sfx = "" if p == 0 else str(p + 1)
    l, r, t, b = BOXES[p]
    lo, hi = Y_DECADES[p]
    for k, ys in enumerate(series):
        fig.add_trace(go.Scatter(
            x=X[:len(ys)], y=ys, mode="lines", name=OMEGA_LABELS[k],
            line=dict(color=COLORS[k], width=1.3, dash=DASHES[k]),
            xaxis="x" + sfx, yaxis="y" + sfx, hoverinfo="skip"))
    tickv = [10.0 ** e for e in range(lo, hi + 1)]
    tickt = ["10<sup>%d</sup>" % e for e in range(lo, hi + 1)]
    layout["xaxis" + sfx] = dict(
        domain=[px(l), px(r)], anchor="y" + sfx, range=[0, 25],
        tickvals=X_TICKS, ticks="inside", ticklen=3, tickcolor="#555",
        showline=True, linecolor="#8c8c8c", linewidth=1, showgrid=False,
        zeroline=False, tickfont=dict(family=SERIF, size=9, color="#262626"))
    layout["yaxis" + sfx] = dict(
        domain=[py(b), py(t)], anchor="x" + sfx, type="log", range=[lo, hi],
        tickvals=tickv, ticktext=tickt, ticks="inside", ticklen=3, tickcolor="#555",
        showline=True, linecolor="#8c8c8c", linewidth=1, showgrid=False,
        zeroline=False, tickfont=dict(family=SERIF, size=9, color="#262626"))

    # axis titles
    annotations.append(dict(
        xref="paper", yref="paper", x=px((l + r) / 2), y=py(XTITLE_Y[p]),
        xanchor="center", yanchor="middle", showarrow=False,
        text="Iteration number ( <i>m</i>)/200",
        font=dict(family=SERIF, size=11, color="#262626")))
    annotations.append(dict(
        xref="paper", yref="paper", x=px(YTITLE_X[p]), y=py((t + b) / 2),
        xanchor="center", yanchor="middle", showarrow=False, textangle=-90,
        text="Standardized Frobenius norm of <b>E</b><sup>( <i>m</i>)</sup> - <b>E</b><sup>(∞)</sup>",
        font=dict(family=SERIF, size=11, color="#262626")))
    # panel label
    annotations.append(dict(
        xref="paper", yref="paper", x=px(l - 36 if l < 300 else l - 49), y=py(LABEL_Y[p]),
        xanchor="left", yanchor="middle", showarrow=False,
        text="<b>" + PANEL_LABELS[p] + "</b>",
        font=dict(family="Liberation Sans, Arial, sans-serif", size=14, color="black")))

    # legend box
    lx0, lx1, ly0, ly1 = LEGENDS[p]
    shapes.append(dict(type="rect", xref="paper", yref="paper",
                       x0=px(lx0), x1=px(lx1), y0=py(ly1), y1=py(ly0),
                       line=dict(color="#8c8c8c", width=1), fillcolor="white"))
    row_h = (ly1 - ly0) / 9.0
    for k in range(9):
        yy = ly0 + row_h * (k + 0.55)
        shapes.append(dict(type="line", xref="paper", yref="paper",
                           x0=px(lx0 + 3), x1=px(lx0 + 17), y0=py(yy), y1=py(yy),
                           line=dict(color=COLORS[k], width=1.3, dash=DASHES[k])))
        annotations.append(dict(
            xref="paper", yref="paper", x=px(lx0 + 18), y=py(yy),
            xanchor="left", yanchor="middle", showarrow=False,
            text=OMEGA_LABELS[k],
            font=dict(family=SERIF, size=8, color="#262626")))

layout["shapes"] = shapes
layout["annotations"] = annotations
fig.update_layout(**layout)
fig.write_html(
    "out.html",
    config={"displayModeBar": False},
    post_script="document.body.style.margin='0px';document.body.style.overflow='hidden';")
